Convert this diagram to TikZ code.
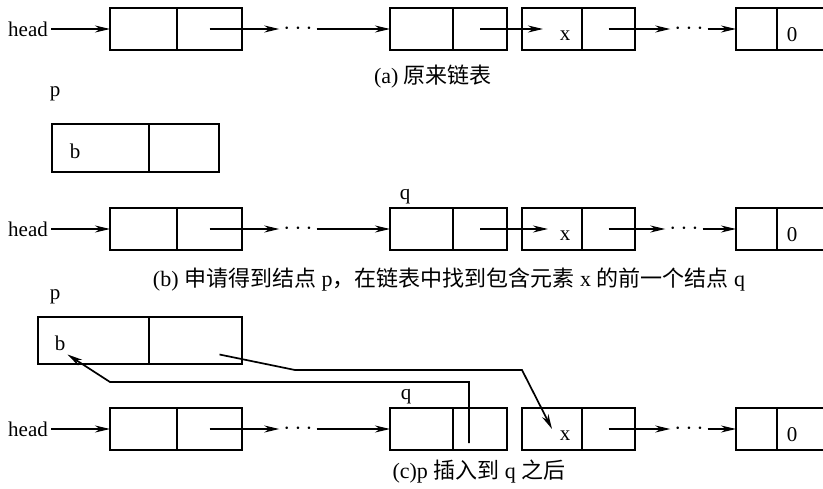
\documentclass[tikz,border=0pt]{standalone}
\usepackage{fontspec}
\setmainfont{Liberation Serif}
\newfontfamily\cjk{Noto Sans CJK SC}
\usetikzlibrary{arrows.meta,positioning}
\newcommand{\zh}[1]{{\cjk #1}}

\begin{document}
\begin{tikzpicture}[
  x=1pt, y=-1pt,
  font=\fontsize{21}{25}\selectfont,
  cell/.style={draw, line width=1.8pt, minimum height=42pt, inner sep=0pt, outer sep=0pt},
  ptr/.style={-{Stealth[length=15pt,width=7pt]}, line width=1.7pt},
  dots/.style={inner sep=4pt, font=\fontsize{24}{25}\selectfont},
  caption/.style={inner sep=0pt, font=\fontsize{22}{25}\selectfont}
]
\useasboundingbox (0,0) rectangle (823,488);

% (a) original list
\node[inner sep=3pt] (ahead) at (28,29) {head};
\node[cell, minimum width=67pt] (a1d) at (143.5,29) {};
\node[cell, minimum width=65pt, right=0pt of a1d] (a1n) {};
\node[dots] (adots1) at (298,29) {$\cdots$};
\node[cell, minimum width=63pt] (a2d) at (421.5,29) {};
\node[cell, minimum width=54pt, right=0pt of a2d] (a2n) {};
\node[cell, minimum width=60pt] (a3d) at (552,29) {};
\node[cell, minimum width=53pt, right=0pt of a3d] (a3n) {};
\node (ax) at (565,36) {x};
\node[dots] (adots2) at (689,29) {$\cdots$};
\node[cell, minimum width=41pt] (a4d) at (756.5,29) {};
\node[cell, minimum width=50pt, right=0pt of a4d] (a4n) {};
\node (azero) at (792,35) {0};
\node[caption] (acap) at (433,77) {(a) \zh{原来链表}};

\draw[ptr] (ahead) -- (a1d.west);
\draw[ptr] (a1n.center) -- (adots1.west);
\draw[ptr] (adots1.east) -- (a2d.west);
\draw[ptr] (a2n.center) -- ([xshift=-9pt]a3d.center);
\draw[ptr] (a3n.center) -- (adots2.west);
\draw[ptr] (adots2.east) -- (a4d.west);

% (b) new node p, q found
\node (bp) at (55,94) {p};
\node[cell, minimum width=97pt, minimum height=48pt] (bpd) at (100.5,148) {};
\node[cell, minimum width=70pt, minimum height=48pt, right=0pt of bpd] (bpn) {};
\node (bb) at (75,151) {b};

\node[inner sep=3pt] (bhead) at (28,229) {head};
\node[cell, minimum width=67pt] (b1d) at (143.5,229) {};
\node[cell, minimum width=65pt, right=0pt of b1d] (b1n) {};
\node[dots] (bdots1) at (298,229) {$\cdots$};
\node[cell, minimum width=63pt] (b2d) at (421.5,229) {};
\node[cell, minimum width=54pt, right=0pt of b2d] (b2n) {};
\node (bq) at (405,197) {q};
\node[cell, minimum width=60pt] (b3d) at (552,229) {};
\node[cell, minimum width=53pt, right=0pt of b3d] (b3n) {};
\node (bx) at (565,236) {x};
\node[dots] (bdots2) at (684,229) {$\cdots$};
\node[cell, minimum width=41pt] (b4d) at (756.5,229) {};
\node[cell, minimum width=50pt, right=0pt of b4d] (b4n) {};
\node (bzero) at (792,235) {0};
\node[caption] (bcap) at (449,280) {(b) \zh{申请得到结点} p\zh{，在链表中找到包含元素} x \zh{的前一个结点} q};

\draw[ptr] (bhead) -- (b1d.west);
\draw[ptr] (b1n.center) -- (bdots1.west);
\draw[ptr] (bdots1.east) -- (b2d.west);
\draw[ptr] (b2n.center) -- ([xshift=-4pt]b3d.center);
\draw[ptr] (b3n.center) -- (bdots2.west);
\draw[ptr] (bdots2.east) -- (b4d.west);

% (c) p inserted after q
\node (cp) at (55,297) {p};
\node[cell, minimum width=111pt, minimum height=47pt] (cpd) at (93.5,340.5) {};
\node[cell, minimum width=93pt, minimum height=47pt, right=0pt of cpd] (cpn) {};
\node (cb) at (60,343) {b};

\node[inner sep=3pt] (chead) at (28,429) {head};
\node[cell, minimum width=67pt] (c1d) at (143.5,429) {};
\node[cell, minimum width=65pt, right=0pt of c1d] (c1n) {};
\node[dots] (cdots1) at (298,429) {$\cdots$};
\node[cell, minimum width=63pt] (c2d) at (421.5,429) {};
\node[cell, minimum width=54pt, right=0pt of c2d] (c2n) {};
\node (cq) at (406,397) {q};
\node[cell, minimum width=60pt] (c3d) at (552,429) {};
\node[cell, minimum width=53pt, right=0pt of c3d] (c3n) {};
\node (cx) at (565,436) {x};
\node[dots] (cdots2) at (689,429) {$\cdots$};
\node[cell, minimum width=41pt] (c4d) at (756.5,429) {};
\node[cell, minimum width=50pt, right=0pt of c4d] (c4n) {};
\node (czero) at (792,435) {0};
\node[caption] (ccap) at (479,472) {(c)p \zh{插入到} q \zh{之后}};

\coordinate (pbend1) at (295,370);
\coordinate (pbend2) at (522,370);
\coordinate (qbend1) at (469,382);
\coordinate (qbend2) at (110,382);

\draw[ptr] (chead) -- (c1d.west);
\draw[ptr] (c1n.center) -- (cdots1.west);
\draw[ptr] (cdots1.east) -- (c2d.west);
\draw[ptr] (c3n.center) -- (cdots2.west);
\draw[ptr] (cdots2.east) -- (c4d.west);
\draw[ptr] ([shift={(24,14)}]cpn.center) -- (pbend1) -- (pbend2) -- (c3d.center);
\draw[ptr] ([shift={(-11,14)}]c2n.center) -- (qbend1) -- (qbend2) -- ([shift={(-26,14)}]cpd.center);
\end{tikzpicture}
\end{document}
